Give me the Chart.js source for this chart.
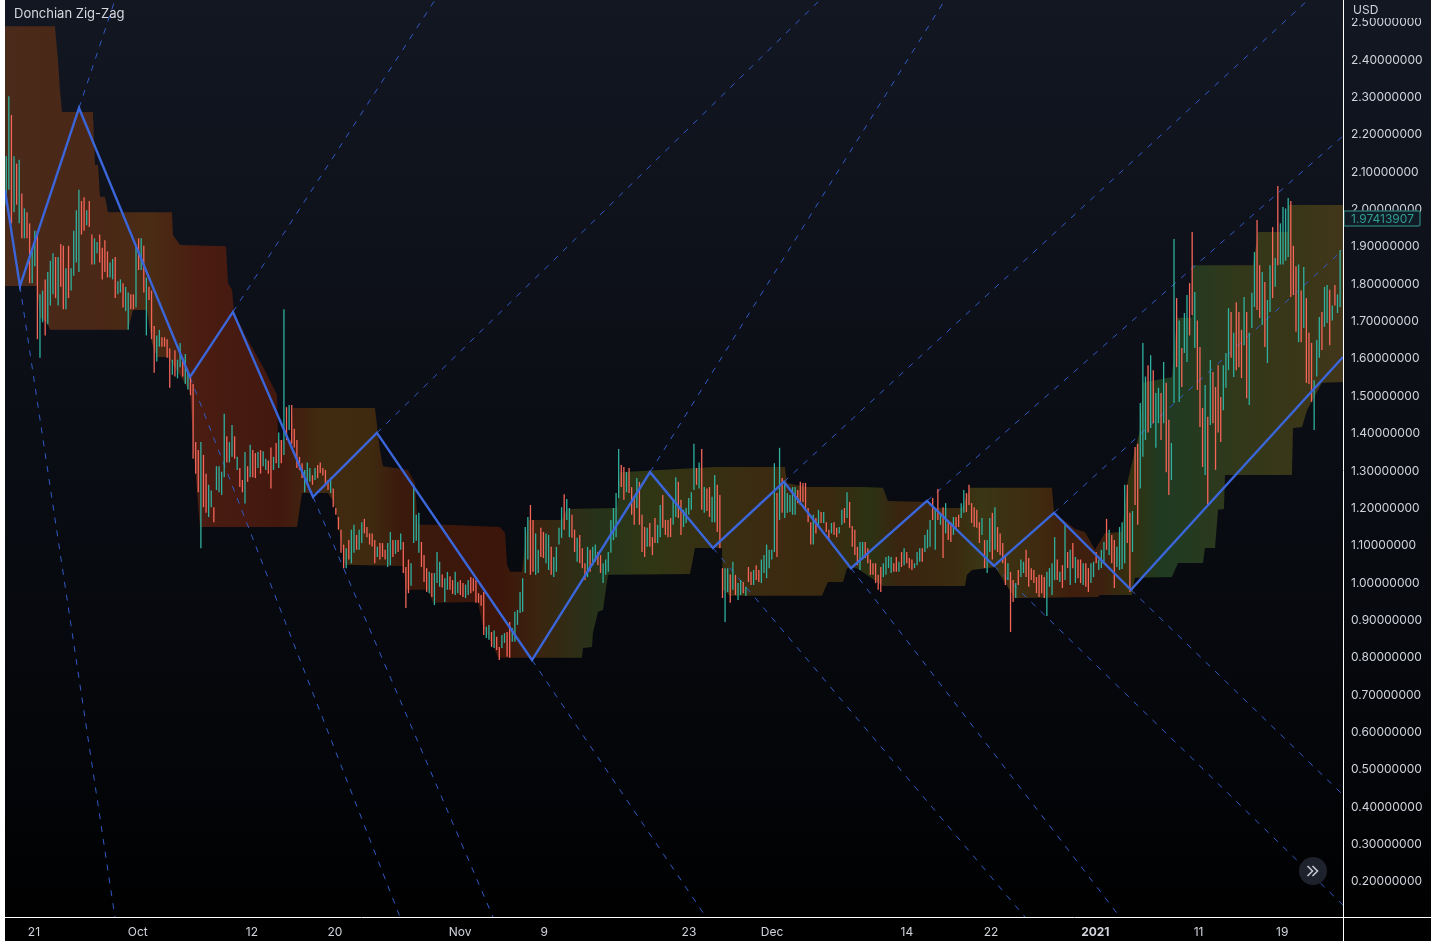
<!DOCTYPE html>
<html>
<head>
<meta charset="utf-8">
<title>Donchian Zig-Zag</title>
<script src="https://cdn.jsdelivr.net/npm/chart.js@4"></script>
<style>
  html, body { margin: 0; padding: 0; background: #ffffff; }
  #graf { display: block; margin-left: 5px; }
</style>
</head>
<body>
<canvas id="graf" width="1426" height="941"></canvas>
<script>
//eixo x em dias desde 21 set, uma barra a cada 6h
var tickDays = [0,10,21,29,41.05,49.15,63.1,71.1,84.1,92.2,102.25,112.2,120.25];
var tickLabels = ['21','Oct','12','20','Nov','9','23','Dec','14','22','2021','11','19'];
var priceTicks = [0.2,0.3,0.4,0.5,0.6,0.7,0.8,0.9,1.0,1.1,1.2,1.3,1.4,1.5,1.6,1.7,1.8,1.9,2.0,2.1,2.2,2.3,2.4,2.5];
var lastPrice = '1.97413907';
var firstBarDay = -2.67;

var highs = [
2.14,2.30,2.25,2.14,2.12,2.13,2.04,2.00,1.99,1.96,
1.89,1.94,1.94,1.77,1.78,1.81,1.83,1.86,1.88,1.87,
1.87,1.905,1.90,1.84,1.90,1.84,1.94,1.995,2.05,2.02,
2.03,1.995,2.02,1.93,1.92,1.91,1.93,1.895,1.915,1.885,
1.855,1.865,1.87,1.805,1.81,1.80,1.79,1.775,1.77,1.77,
1.90,1.92,1.92,1.90,1.815,1.79,1.78,1.685,1.66,1.675,
1.655,1.655,1.65,1.625,1.595,1.62,1.595,1.64,1.60,1.61,
1.56,1.55,1.53,1.375,1.353,1.375,1.34,1.29,1.26,1.245,
1.20,1.31,1.31,1.295,1.45,1.39,1.375,1.42,1.39,1.335,
1.305,1.273,1.348,1.31,1.367,1.353,1.345,1.348,1.353,1.35,
1.33,1.325,1.36,1.335,1.372,1.40,1.38,1.73,1.468,1.474,
1.474,1.41,1.38,1.335,1.318,1.30,1.32,1.305,1.286,1.305,
1.313,1.32,1.305,1.30,1.273,1.28,1.25,1.198,1.174,1.14,
1.10,1.09,1.112,1.14,1.153,1.126,1.14,1.16,1.169,1.147,
1.13,1.13,1.112,1.094,1.104,1.104,1.086,1.104,1.134,1.112,
1.112,1.112,1.13,1.107,1.04,1.06,1.05,1.26,1.18,1.185,
1.107,1.072,1.037,1.027,1.024,1.024,1.08,1.054,1.02,1.01,
1.027,1.015,1.005,1.027,1.0,1.005,.997,.993,1.005,1.013,
1.01,1.005,.97,.965,.973,.88,.885,.866,.87,.853,
.826,.858,.863,.866,.893,.877,.92,.925,.973,1.01,
1.147,1.174,1.206,1.166,1.13,1.086,1.145,1.134,1.13,1.126,
1.094,1.067,1.094,1.145,1.20,1.235,1.222,1.198,1.18,1.14,
1.118,1.126,1.09,1.05,1.094,1.086,1.094,1.10,1.08,1.072,
1.05,1.06,1.08,1.166,1.198,1.238,1.356,1.313,1.308,1.294,
1.305,1.254,1.228,1.278,1.268,1.18,1.147,1.145,1.158,1.12,
1.171,1.153,1.206,1.233,1.166,1.166,1.171,1.22,1.28,1.268,
1.22,1.193,1.198,1.225,1.24,1.37,1.305,1.32,1.356,1.254,
1.25,1.254,1.228,1.286,1.26,1.233,1.037,1.037,1.037,1.02,
1.054,1.019,.997,1.005,1.0,.987,1.04,1.027,1.032,1.045,
1.032,1.06,1.072,1.10,1.086,1.086,1.318,1.238,1.359,1.278,
1.268,1.238,1.233,1.254,1.254,1.246,1.268,1.265,1.265,1.198,
1.16,1.18,1.171,1.193,1.187,1.187,1.16,1.14,1.158,1.16,
1.145,1.147,1.193,1.198,1.24,1.214,1.15,1.14,1.094,1.107,
1.107,1.107,1.09,1.06,1.05,1.05,1.019,1.04,1.05,1.067,
1.07,1.067,1.05,1.067,1.054,1.08,1.09,1.08,1.064,1.06,
1.05,1.08,1.09,1.09,1.126,1.14,1.166,1.225,1.193,1.249,
1.185,1.20,1.211,1.166,1.16,1.174,1.174,1.18,1.211,1.246,
1.238,1.26,1.211,1.20,1.193,1.16,1.171,1.112,1.112,1.171,
1.185,1.20,1.147,1.13,1.104,1.072,1.05,1.027,1.005,.997,
1.032,1.06,1.054,1.086,1.064,1.037,1.032,1.013,1.019,1.019,
1.013,1.027,1.037,1.05,1.12,1.06,1.027,1.045,1.153,1.08,
1.086,1.104,1.067,1.06,1.06,1.05,1.05,1.037,1.05,1.054,
1.08,1.06,1.086,1.107,1.169,1.14,1.126,1.112,1.094,1.147,
1.16,1.26,1.26,1.185,1.19,1.361,1.37,1.479,1.64,1.55,
1.58,1.607,1.567,1.506,1.52,1.506,1.589,1.533,1.434,1.372,
1.918,1.76,1.70,1.626,1.72,1.768,1.80,1.937,1.776,1.70,
1.629,1.466,1.527,1.442,1.594,1.562,1.522,1.58,1.495,1.58,
1.613,1.733,1.723,1.667,1.749,1.723,1.675,1.763,1.723,1.667,
1.774,1.883,1.969,1.848,1.83,1.803,1.755,1.848,1.95,1.867,
2.06,1.96,2.004,2.0,2.028,2.02,1.90,1.845,1.85,1.78,
1.843,1.76,1.667,1.64,1.54,1.648,1.709,1.723,1.79,1.795,
1.782,1.74,1.795,1.77,1.889
];

var lows = [
2.01,2.05,1.96,1.99,2.01,1.96,1.92,1.92,1.92,1.80,
1.80,1.845,1.65,1.60,1.695,1.66,1.69,1.74,1.77,1.76,
1.74,1.79,1.73,1.73,1.76,1.78,1.82,1.855,1.83,1.93,
1.94,1.955,1.95,1.85,1.85,1.88,1.855,1.81,1.83,1.815,
1.815,1.81,1.76,1.77,1.775,1.735,1.725,1.675,1.73,1.73,
1.735,1.835,1.835,1.775,1.66,1.755,1.65,1.56,1.59,1.63,
1.63,1.63,1.60,1.52,1.555,1.55,1.545,1.575,1.55,1.53,
1.515,1.50,1.33,1.29,1.24,1.09,1.20,1.185,1.174,1.20,
1.16,1.246,1.24,1.233,1.28,1.32,1.32,1.335,1.33,1.30,
1.254,1.24,1.21,1.268,1.28,1.28,1.278,1.305,1.29,1.31,
1.30,1.29,1.25,1.30,1.318,1.305,1.318,1.34,1.38,1.407,
1.37,1.36,1.305,1.30,1.278,1.24,1.265,1.268,1.26,1.273,
1.278,1.292,1.285,1.26,1.246,1.238,1.20,1.18,1.14,1.078,
1.037,1.037,1.06,1.05,1.078,1.086,1.086,1.104,1.13,1.12,
1.10,1.095,1.05,1.067,1.06,1.067,1.06,1.04,1.045,1.067,
1.075,1.08,1.086,1.024,.93,.97,.99,1.104,1.11,1.078,
1.04,1.0,.973,.97,.96,.938,.997,.987,.985,.946,
.979,.979,.968,.965,.97,.965,.96,.957,.965,.97,
.975,.944,.944,.936,.858,.85,.845,.826,.823,.818,
.791,.823,.837,.80,.797,.84,.84,.885,.917,.92,
1.024,1.06,1.019,1.027,1.019,1.024,1.067,1.064,1.05,1.032,
1.019,1.013,1.027,1.10,1.118,1.14,1.166,1.12,1.118,1.08,
1.054,1.05,1.037,1.005,1.013,1.027,1.045,1.054,1.045,1.024,
.997,1.019,1.027,1.078,1.112,1.12,1.225,1.254,1.22,1.24,
1.238,1.18,1.153,1.198,1.153,1.08,1.067,1.094,1.094,1.072,
1.104,1.104,1.12,1.145,1.126,1.12,1.12,1.153,1.174,1.171,
1.126,1.147,1.158,1.18,1.193,1.246,1.26,1.25,1.193,1.185,
1.19,1.174,1.16,1.16,1.134,1.09,.957,.893,.973,.944,
.979,.965,.952,.965,.97,.963,1.0,.992,.992,1.005,
1.0,.997,1.024,1.01,1.037,1.06,1.08,1.067,1.166,1.185,
1.171,1.185,1.187,1.18,1.18,1.211,1.206,1.214,1.193,1.16,
1.10,1.10,1.13,1.147,1.158,1.158,1.134,1.11,1.13,1.126,
1.12,1.13,1.153,1.158,1.171,1.145,1.094,1.072,1.045,1.032,
1.06,1.064,1.05,1.019,1.019,.997,.979,.973,1.013,1.019,
1.037,1.024,1.027,1.027,1.027,1.04,1.045,1.05,1.037,1.032,
1.037,1.045,1.054,1.054,1.08,1.09,1.094,1.166,1.086,1.166,
1.153,1.064,1.13,1.112,1.107,1.126,1.145,1.147,1.171,1.185,
1.187,1.206,1.158,1.147,1.145,1.104,1.126,1.037,1.024,1.08,
1.06,1.086,1.08,1.072,1.05,.992,1.005,.866,.946,.957,
.992,1.013,1.024,1.013,.987,1.005,.997,.97,.96,.97,
.957,.909,.987,.965,1.005,1.005,1.0,.984,1.005,1.037,
.992,1.037,.997,1.01,.997,.992,.987,.973,.997,1.013,
1.05,1.032,1.037,1.05,1.086,1.072,1.05,.984,1.04,1.032,
1.035,1.05,1.104,.973,1.08,1.206,1.153,1.25,1.335,1.38,
1.40,1.412,1.425,1.359,1.425,1.38,1.425,1.294,1.233,1.273,
1.479,1.575,1.482,1.522,1.613,1.589,1.66,1.715,1.626,1.514,
1.415,1.308,1.286,1.206,1.42,1.425,1.30,1.40,1.375,1.46,
1.52,1.567,1.60,1.549,1.567,1.575,1.546,1.634,1.492,1.474,
1.68,1.736,1.728,1.707,1.688,1.629,1.586,1.723,1.76,1.79,
1.848,1.85,1.85,1.86,1.87,1.763,1.768,1.67,1.642,1.642,
1.68,1.533,1.53,1.482,1.407,1.55,1.60,1.621,1.683,1.693,
1.634,1.70,1.74,1.72,1.736
];

//u = candle de alta, d = candle de baixa
var candleDirs = [
'u u d u d u d u d d','u u d u u d u u u d','u d d u d u u u u d','d u d d u u d d d d','u u d u u d u u d d',
'u d u d u d d d u u','d d d d u d u u d u','u d d d d u d d u u','d u u u u d u u d u','d d u d u d d u d u',
'u d d u d u d u d u','d d d d d u u u d u','d d d d d u d d d d','d u d u u d u u d d','d d d u d d d u u d',
'u d u d d d u u u u','d d d u d u u u d u','u d d u u d d u u d','d d d d d u u d u d','d u u d d u u u u u',
'u u d d u u d d u u','d u u u u d u u d d','u d d d u d u u d d','u u u u u u u d d u','d d d u d d d u d d',
'd u u d d d d u u d','d u u u u u d u d u','d d u u d d d u u d','u d u u d u d d u d','d u u u u u u d u d',
'u u u u u d d d d d','d u d u d u d d u d','d u u d u d d d d u','u d d d d d d d u u','u u d d u d u d d d',
'u u u d u u u d u d','u d u d d u d d u u','d d d d d d u d u u','d u d d d d u d d u','d u u d d d d d d d',
'd u u u u d u d u d','u d u d d u d d u u','d u u u d u d d u u','u u d d u d d u u u','d u d u u d u d d u',
'u d u d u u d d u d','d d u d u d d d d u','u u d u d d d u d u','u u d d u d u u d u','d u u u u d d d u d',
'u d d d u u u d u u','d u d u u'
].join(' ').split(' ');

//canal de Donchian: dia e preco das quebras
var upperDays = [-2.79,2.02,2.31,2.5,2.70,5.68,5.88,6.17,6.36,6.84,7.13,13.29,13.39,14.07,18.50,18.69,19.08,19.27,20.33,21.97,23.41,23.51,24.76,24.95,32.85,33.33,33.62,36.03,36.71,36.99,39.6,44.89,45.38,45.57,45.86,47.01,47.59,50.87,51.35,56.17,56.45,65.61,72.35,72.54,74.28,79.87,81.79,82.27,86.13,86.51,89.40,90.17,98.07,98.27,100.29,101.25,102.22,103.18,104.82,105.39,106.55,106.84,109.63,110.12,111.56,111.57,117.44,117.92,120.81,120.82,126.11];
var upperPrices = [2.488,2.488,2.397,2.317,2.258,2.258,2.116,2.116,2.031,2.031,1.990,1.990,1.929,1.902,1.899,1.800,1.782,1.723,1.661,1.581,1.501,1.380,1.380,1.466,1.466,1.353,1.310,1.300,1.265,1.153,1.153,1.147,1.131,1.046,1.027,1.027,1.166,1.166,1.195,1.198,1.294,1.308,1.308,1.265,1.254,1.254,1.252,1.217,1.214,1.198,1.198,1.252,1.252,1.185,1.142,1.134,1.086,1.131,1.134,1.273,1.407,1.533,1.549,1.707,1.707,1.848,1.848,1.937,1.937,2.009,2.009];
var lowerDays = [-2.79,0.29,0.58,1.25,1.54,9.06,9.54,10.89,11.37,11.85,12.91,14.07,15.03,15.51,15.99,25.34,25.82,28.32,28.81,29.19,29.96,35.55,35.93,37.96,38.44,42.77,43.26,44.41,44.70,52.79,52.89,53.76,53.85,54.34,54.82,55.30,63.2,63.68,66.28,66.38,67.05,75.91,76.49,77.94,78.32,79.29,81.79,89.69,89.88,90.37,92.58,94.51,102.5,102.7,105.78,106.07,109.63,110.21,112.62,112.81,113.78,114.07,114.64,114.74,121.19,121.29,122.16,122.64,124.08,126.11];
var lowerPrices = [1.792,1.792,1.709,1.693,1.675,1.675,1.728,1.728,1.640,1.602,1.602,1.554,1.509,1.313,1.147,1.147,1.238,1.238,1.219,1.179,1.046,1.043,0.979,0.979,0.944,0.946,0.880,0.818,0.797,0.797,0.823,0.826,0.863,0.920,0.925,1.019,1.021,1.091,1.091,0.979,0.963,0.963,1.0,1.0,1.037,1.037,0.989,0.989,1.019,1.032,1.040,0.957,0.960,0.965,0.965,1.011,1.013,1.051,1.051,1.091,1.091,1.193,1.195,1.286,1.286,1.412,1.415,1.460,1.533,1.535];

//zig-zag
var pivotDays = [-2.79,-1.35,4.34,15.03,19.17,26.88,33.04,47.98,59.35,65.41,72.25,78.71,86.03,92.49,98.27,105.68,126.11];
var pivotPrices = [2.049,1.792,2.269,1.549,1.723,1.228,1.399,0.791,1.294,1.091,1.268,1.037,1.217,1.043,1.185,0.979,1.602];

//prolongamentos tracejados das pernas
var extStartDays = [4.34,19.17,33.04,59.35,72.25,86.03,98.27,-1.35,15.03,26.88,47.98,65.41,78.71,92.49,105.68];
var extStartPrices = [2.269,1.723,1.399,1.294,1.268,1.217,1.185,1.792,1.549,1.228,0.791,1.091,1.037,1.043,0.979];
var extEndDays = [7.80,38.63,75.72,87.76,122.74,126.11,126.11,7.80,35.26,44.22,64.74,95.47,104.62,126.11,126.11];
var extEndPrices = [2.558,2.558,2.558,2.558,2.558,2.194,1.889,0.103,0.103,0.103,0.103,0.103,0.103,0.135,0.430];

// cor do canal ao longo do eixo (pixel do grafico, cor)
var bandColors = [
  [0,'#4a2a1a'],[95,'#4a2716'],[145,'#4a2c14'],[195,'#4a1c12'],[275,'#42180e'],[315,'#402a10'],
  [365,'#3f2a10'],[395,'#3a1a0c'],[495,'#3d150a'],[535,'#3a2510'],[595,'#26331a'],[645,'#303614'],
  [695,'#363012'],[775,'#3d2a10'],[825,'#3a2a0f'],[865,'#2c3214'],[895,'#3a2410'],[955,'#3a2c10'],
  [975,'#3a3614'],[1035,'#3f2a0f'],[1065,'#401e0e'],[1095,'#3d200f'],[1125,'#34300f'],[1155,'#1f3a22'],
  [1185,'#243a20'],[1235,'#33381a'],[1295,'#3a3618'],[1338,'#42361a']
];

var textColor = '#d1d4dc';
var fontName = 'Inter, "Noto Sans", sans-serif';

var bandGrad = null;
function bandFill(c) {
  var area = c.chart.chartArea;
  if (!area) return '#3a2510';
  if (!bandGrad) {
    bandGrad = c.chart.ctx.createLinearGradient(area.left, 0, area.right, 0);
    bandColors.forEach(function (s) { bandGrad.addColorStop(s[0] / 1338, s[1]); });
  }
  return bandGrad;
}

var pairs = function (xs, ys) { return xs.map(function (x, i) { return {x: x, y: ys[i]}; }); };

var datasets = [
  {type: 'line', data: pairs(upperDays, upperPrices), borderWidth: 0, pointRadius: 0, fill: '+1', backgroundColor: bandFill, order: 6},
  {type: 'line', data: pairs(lowerDays, lowerPrices), borderWidth: 0, pointRadius: 0, fill: false, order: 6}
];
extStartDays.forEach(function (d, i) {
  datasets.push({
    type: 'line',
    data: [{x: d, y: extStartPrices[i]}, {x: extEndDays[i], y: extEndPrices[i]}],
    borderColor: '#3059c4', borderWidth: 1, borderDash: [6, 7], pointRadius: 0, fill: false, order: 4
  });
});
datasets.push({
  type: 'bar',
  data: highs.map(function (h, i) { return {x: firstBarDay + i / 4, y: [lows[i], h]}; }),
  backgroundColor: candleDirs.map(function (d) { return d === 'u' ? '#2fb09e' : '#f4655a'; }),
  barThickness: 1.3, inflateAmount: 0, order: 2
});
datasets.push({
  type: 'line', data: pairs(pivotDays, pivotPrices),
  borderColor: '#3b66d9', borderWidth: 2.4, pointRadius: 0, fill: false, order: 1
});

// fundo, rotulos e bordas que nao sao eixo do Chart.js
var moldura = {
  id: 'moldura',
  beforeDraw: function (chart) {
    var ctx = chart.ctx;
    var g = ctx.createLinearGradient(0, 0, 0, 941);
    g.addColorStop(0, '#131722');
    g.addColorStop(0.75, '#05070b');
    g.addColorStop(1, '#000000');
    ctx.save();
    ctx.fillStyle = g;
    ctx.fillRect(0, 0, chart.width, chart.height);
    ctx.restore();
  },
  afterDraw: function (chart) {
    var ctx = chart.ctx;
    var r = chart.chartArea.right, b = chart.chartArea.bottom;
    ctx.save();
    ctx.textBaseline = 'middle';
    // tampa o topo da escala
    ctx.fillStyle = '#131722';
    ctx.fillRect(r + 1, 0, chart.width - r, 18);
    ctx.font = '12px ' + fontName;
    ctx.fillStyle = textColor;
    ctx.fillText('USD', r + 10, 10);
    // etiqueta do ultimo preco
    ctx.fillStyle = '#101b26';
    ctx.strokeStyle = '#2a6f6c';
    ctx.lineWidth = 1.5;
    ctx.beginPath();
    ctx.roundRect(r + 1, 211, 76, 15, [0, 2, 2, 0]);
    ctx.fill();
    ctx.stroke();
    ctx.fillStyle = '#2f9e92';
    ctx.fillText(lastPrice, r + 8, 219);
    // titulo
    ctx.font = '13px ' + fontName;
    ctx.fillStyle = '#d6d8de';
    ctx.fillText('Donchian Zig-Zag', 9, 14);
    // botao de ir para o fim
    ctx.fillStyle = '#1e222d';
    ctx.beginPath();
    ctx.arc(1308, 871, 14, 0, Math.PI * 2);
    ctx.fill();
    ctx.strokeStyle = '#c4c7cf';
    ctx.lineWidth = 1.6;
    [1302.5, 1307.5].forEach(function (x) {
      ctx.beginPath();
      ctx.moveTo(x, 866);
      ctx.lineTo(x + 5, 871);
      ctx.lineTo(x, 876);
      ctx.stroke();
    });
    // bordas brancas
    ctx.strokeStyle = '#ffffff';
    ctx.lineWidth = 1;
    ctx.beginPath();
    ctx.moveTo(r + 0.5, 0);
    ctx.lineTo(r + 0.5, chart.height);
    ctx.moveTo(0, b + 0.5);
    ctx.lineTo(chart.width, b + 0.5);
    ctx.stroke();
    ctx.restore();
  }
};

var ctx = document.getElementById('graf');
var graf = new Chart(ctx, {
  type: 'bar',
  data: {datasets: datasets},
  plugins: [moldura],
  options: {
    responsive: false,
    animation: false,
    events: [],
    layout: {padding: 0, autoPadding: false},
    plugins: {legend: {display: false}, tooltip: {enabled: false}},
    scales: {
      x: {
        type: 'linear',
        bounds: 'data',
        offset: false,
        min: -2.79,
        max: 126.11,
        grid: {display: false, drawTicks: false},
        border: {display: false},
        afterFit: function (s) { s.height = 24; s.paddingLeft = 0; s.paddingRight = 0; },
        afterBuildTicks: function (s) { s.ticks = tickDays.map(function (v) { return {value: v}; }); },
        ticks: {
          autoSkip: false,
          maxRotation: 0,
          padding: 8,
          color: textColor,
          font: function (c) {
            return {family: fontName, size: 12, weight: c.index === 10 ? 'bold' : 'normal'};
          },
          callback: function (v, i) { return tickLabels[i]; }
        }
      },
      y: {
        position: 'right',
        bounds: 'data',
        min: 0.103,
        max: 2.558,
        grid: {display: false, drawTicks: false},
        border: {display: false},
        // sem isso o Chart.js reserva meia etiqueta em cima e o grafico encolhe
        afterFit: function (s) { s.width = 88; s.paddingTop = 0; s.paddingBottom = 0; },
        afterBuildTicks: function (s) { s.ticks = priceTicks.map(function (v) { return {value: v}; }); },
        ticks: {
          padding: 8,
          labelOffset: 1,
          color: textColor,
          font: {family: fontName, size: 12},
          callback: function (v) { return v.toFixed(8); }
        }
      }
    }
  }
});
</script>
</body>
</html>
